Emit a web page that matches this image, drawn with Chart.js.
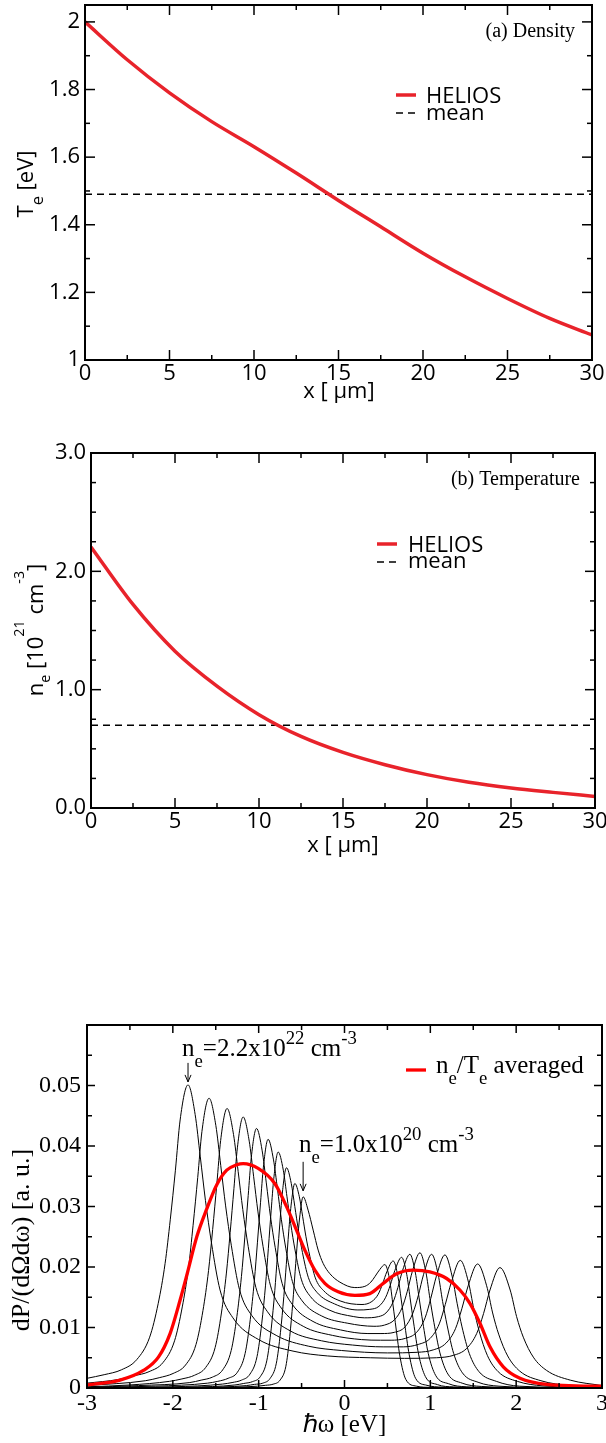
<!DOCTYPE html>
<html><head><meta charset="utf-8">
<script src="https://cdn.jsdelivr.net/npm/chart.js@4.4.1/dist/chart.umd.min.js"></script>
<style>
html,body{margin:0;padding:0;background:#fff;width:606px;height:1443px;overflow:hidden;position:relative}
canvas{position:absolute;left:0}
</style></head><body>
<canvas id="c1" width="606" height="410" style="top:0px;width:606px;height:410px"></canvas>
<canvas id="c2" width="606" height="430" style="top:440px;width:606px;height:430px"></canvas>
<canvas id="c3" width="606" height="443" style="top:1000px;width:606px;height:443px"></canvas>
<script>
// ---------------- DATA ----------------
// Panel (a): electron temperature profile
const posX = [0, 2.5, 5, 7.5, 10, 12.5, 15, 17.5, 20, 22.5, 25, 27.5, 30];
const teHelios = [2.0, 1.888, 1.79, 1.705, 1.631, 1.553, 1.472, 1.394, 1.316, 1.246, 1.182, 1.123, 1.074];
const teMean = 1.49;
// Panel (b): electron density profile [1e21 cm^-3]
const neHelios = [2.206, 1.72, 1.325, 1.03, 0.789, 0.605, 0.47, 0.366, 0.282, 0.217, 0.169, 0.132, 0.098];
const neMean = 0.70;
// tick labels
const xTicksPos = [0, 5, 10, 15, 20, 25, 30];
const yTicksTe = [1, 1.2, 1.4, 1.6, 1.8, 2];
const yTicksNe = [0, 1, 2, 3];
const yLabelsNe = ['0.0', '1.0', '2.0', '3.0'];
const xTicksW = [-3, -2, -1, 0, 1, 2, 3];
const yTicksP = [0, 0.01, 0.02, 0.03, 0.04, 0.05];

// Panel (c): spectra [hbar*omega (eV), dP/(dOmega domega)]
const specNe0 = [[-3.0,0.0016],[-2.8,0.0022],[-2.6,0.0030],[-2.42,0.0047],[-2.27,0.0084],[-2.17,0.0140],[-2.09,0.0206],[-2.03,0.0278],[-1.97,0.0360],[-1.915,0.0443],[-1.823,0.0501],[-1.74,0.0452],[-1.68,0.0382],[-1.62,0.0310],[-1.55,0.0240],[-1.45,0.0162],[-1.3,0.0116],[-1.0,0.0080],[-0.6,0.0061],[-0.2,0.0053],[0.3,0.0050],[0.7,0.0049],[1.07,0.0050],[1.27,0.0054],[1.42,0.0065],[1.54,0.0090],[1.62,0.0123],[1.695,0.0162],[1.811,0.0199],[1.93,0.0162],[2.005,0.0118],[2.083,0.0084],[2.2,0.0051],[2.355,0.0029],[2.63,0.0013],[3.0,0.0004]];
const specNe1 = [[-3.0,0.0008],[-2.637,0.0014],[-2.457,0.0020],[-2.277,0.0027],[-2.115,0.0042],[-1.980,0.0078],[-1.890,0.0134],[-1.818,0.0198],[-1.764,0.0269],[-1.710,0.0348],[-1.661,0.0424],[-1.578,0.0479],[-1.499,0.0434],[-1.442,0.0368],[-1.385,0.0301],[-1.319,0.0236],[-1.224,0.0163],[-1.081,0.0120],[-0.796,0.0087],[-0.416,0.0069],[-0.036,0.0062],[0.5,0.0058],[0.850,0.0059],[1.034,0.0063],[1.182,0.0074],[1.293,0.0098],[1.367,0.0131],[1.441,0.0169],[1.551,0.0205],[1.656,0.0169],[1.726,0.0124],[1.796,0.0089],[1.901,0.0053],[2.041,0.0028],[2.289,0.0012],[2.622,0.0004],[3.0,0.0001]];
const specNe2 = [[-3.0,0.0004],[-2.321,0.0012],[-2.159,0.0017],[-1.997,0.0024],[-1.852,0.0038],[-1.730,0.0072],[-1.649,0.0128],[-1.584,0.0194],[-1.536,0.0262],[-1.487,0.0338],[-1.443,0.0409],[-1.368,0.0462],[-1.293,0.0419],[-1.239,0.0358],[-1.185,0.0295],[-1.122,0.0234],[-1.032,0.0166],[-0.897,0.0126],[-0.627,0.0094],[-0.267,0.0078],[0.093,0.0071],[0.45,0.0068],[0.685,0.0068],[0.859,0.0072],[0.998,0.0082],[1.104,0.0106],[1.174,0.0138],[1.245,0.0175],[1.349,0.0211],[1.444,0.0175],[1.506,0.0131],[1.569,0.0094],[1.664,0.0054],[1.790,0.0027],[2.013,0.0011],[2.313,0.00035],[3.0,0.00005]];
const specNe3 = [[-3.0,0.0002],[-2.5,0.0005],[-2.040,0.0011],[-1.894,0.0015],[-1.748,0.0021],[-1.617,0.0034],[-1.507,0.0067],[-1.434,0.0124],[-1.376,0.0190],[-1.332,0.0257],[-1.288,0.0330],[-1.248,0.0397],[-1.181,0.0448],[-1.110,0.0408],[-1.059,0.0350],[-1.008,0.0291],[-0.949,0.0234],[-0.864,0.0170],[-0.736,0.0132],[-0.481,0.0102],[-0.141,0.0087],[0.199,0.0080],[0.42,0.0079],[0.543,0.0079],[0.708,0.0082],[0.840,0.0092],[0.939,0.0116],[1.005,0.0148],[1.071,0.0185],[1.170,0.0220],[1.255,0.0184],[1.312,0.0140],[1.369,0.0101],[1.454,0.0057],[1.567,0.0027],[1.769,0.0011],[2.039,0.0003],[3.0,0.00003]];
const specNe4 = [[-3.0,0.0001],[-2.4,0.0004],[-1.802,0.0009],[-1.670,0.0013],[-1.538,0.0018],[-1.419,0.0030],[-1.320,0.0062],[-1.254,0.0118],[-1.201,0.0184],[-1.162,0.0248],[-1.122,0.0318],[-1.086,0.0381],[-1.025,0.0429],[-0.959,0.0392],[-0.911,0.0339],[-0.863,0.0284],[-0.807,0.0232],[-0.727,0.0173],[-0.607,0.0138],[-0.367,0.0110],[-0.047,0.0096],[0.273,0.0090],[0.425,0.0090],[0.580,0.0092],[0.705,0.0101],[0.797,0.0124],[0.860,0.0153],[0.922,0.0188],[1.015,0.0221],[1.092,0.0187],[1.143,0.0143],[1.195,0.0104],[1.272,0.0057],[1.374,0.0025],[1.556,0.00095],[1.800,0.0003],[2.5,0.00005],[3.0,0.00002]];
const specNe5 = [[-3.0,0.0001],[-2.2,0.0003],[-1.596,0.0008],[-1.476,0.0011],[-1.356,0.0016],[-1.248,0.0026],[-1.158,0.0057],[-1.098,0.0113],[-1.050,0.0178],[-1.014,0.0241],[-0.978,0.0307],[-0.945,0.0365],[-0.890,0.0411],[-0.827,0.0377],[-0.781,0.0329],[-0.736,0.0279],[-0.683,0.0230],[-0.607,0.0176],[-0.493,0.0144],[-0.265,0.0119],[0.039,0.0107],[0.343,0.0102],[0.466,0.0104],[0.584,0.0113],[0.672,0.0133],[0.732,0.0160],[0.791,0.0193],[0.879,0.02235],[0.949,0.0191],[0.995,0.0148],[1.042,0.0108],[1.112,0.0058],[1.205,0.0023],[1.371,0.0008],[1.593,0.00026],[2.2,0.00005],[3.0,0.00001]];
const specNe6 = [[-3.0,0.00005],[-2.0,0.0002],[-1.420,0.00065],[-1.310,0.0009],[-1.200,0.0013],[-1.101,0.0023],[-1.019,0.0052],[-0.964,0.0107],[-0.920,0.0170],[-0.887,0.0231],[-0.854,0.0294],[-0.824,0.0346],[-0.773,0.0390],[-0.713,0.0360],[-0.670,0.0316],[-0.627,0.0272],[-0.576,0.0228],[-0.504,0.0180],[-0.396,0.0151],[-0.180,0.0129],[0.108,0.0118],[0.231,0.0116],[0.396,0.0118],[0.483,0.0124],[0.566,0.0142],[0.622,0.0166],[0.678,0.0195],[0.762,0.0221],[0.826,0.0190],[0.869,0.0149],[0.912,0.0109],[0.976,0.0057],[1.061,0.0021],[1.213,0.0007],[1.417,0.0002],[2.0,0.00004],[3.0,0.0]];
const specNe7 = [[-3.0,0.00003],[-1.8,0.00015],[-1.276,0.0005],[-1.174,0.00075],[-1.072,0.00105],[-0.980,0.0019],[-0.904,0.0046],[-0.853,0.0099],[-0.812,0.0161],[-0.782,0.0218],[-0.751,0.0276],[-0.723,0.0324],[-0.676,0.0364],[-0.620,0.0338],[-0.579,0.0300],[-0.538,0.0262],[-0.490,0.0224],[-0.422,0.0183],[-0.320,0.0158],[-0.116,0.0139],[0.156,0.0129],[0.295,0.0130],[0.401,0.0135],[0.480,0.0150],[0.533,0.0170],[0.586,0.0194],[0.665,0.0216],[0.725,0.0188],[0.764,0.0149],[0.804,0.0109],[0.863,0.0056],[0.942,0.0019],[1.083,0.00056],[1.272,0.00018],[1.8,0.00003],[3.0,0.0]];
const specNe8 = [[-3.0,0.00002],[-1.7,0.0001],[-1.144,0.0004],[-1.048,0.0006],[-0.952,0.0008],[-0.866,0.0016],[-0.794,0.0041],[-0.746,0.0092],[-0.707,0.0151],[-0.678,0.0204],[-0.650,0.0258],[-0.623,0.0301],[-0.579,0.0338],[-0.526,0.0316],[-0.487,0.0283],[-0.449,0.0250],[-0.404,0.0218],[-0.340,0.0182],[-0.244,0.0161],[-0.052,0.0144],[0.204,0.0138],[0.319,0.0143],[0.393,0.0155],[0.443,0.0172],[0.493,0.0192],[0.567,0.0210],[0.623,0.0184],[0.660,0.0147],[0.698,0.0109],[0.754,0.0055],[0.828,0.0016],[0.961,0.00044],[1.138,0.00014],[1.6,0.00003],[3.0,0.0]];
const specNe9 = [[-3.0,0.00001],[-1.6,0.00008],[-1.012,0.0003],[-0.922,0.00044],[-0.832,0.00063],[-0.751,0.0013],[-0.683,0.0036],[-0.638,0.0085],[-0.602,0.0142],[-0.575,0.0193],[-0.548,0.0243],[-0.523,0.0281],[-0.482,0.0316],[-0.424,0.0294],[-0.365,0.0261],[-0.307,0.0228],[-0.249,0.0206],[-0.171,0.0189],[-0.054,0.0175],[0.12,0.0166],[0.237,0.0168],[0.307,0.0175],[0.354,0.0184],[0.412,0.0196],[0.470,0.0204],[0.523,0.0181],[0.557,0.0146],[0.592,0.0108],[0.645,0.0053],[0.715,0.0014],[0.839,0.0003],[1.006,0.0001],[1.5,0.00002],[3.0,0.0]];
const specAveraged = [[-3.0,0.0005],[-2.615,0.0013],[-2.343,0.0029],[-2.168,0.0051],[-2.032,0.0090],[-1.916,0.0145],[-1.838,0.0186],[-1.721,0.0250],[-1.605,0.0296],[-1.488,0.0336],[-1.372,0.0360],[-1.255,0.0369],[-1.18,0.0371],[-1.006,0.0363],[-0.812,0.0338],[-0.657,0.0294],[-0.559,0.0261],[-0.462,0.0228],[-0.346,0.0195],[-0.229,0.0173],[-0.074,0.0159],[0.121,0.0153],[0.295,0.0156],[0.451,0.0173],[0.607,0.0189],[0.8,0.0195],[0.995,0.0192],[1.19,0.0181],[1.345,0.0162],[1.461,0.0140],[1.578,0.0107],[1.695,0.0068],[1.85,0.0035],[2.044,0.0016],[2.355,0.0006],[2.98,0.0003],[3.0,0.0003]];
const spectraNe = [specNe0, specNe1, specNe2, specNe3, specNe4, specNe5, specNe6, specNe7, specNe8, specNe9];

// ---------------- STYLE ----------------
const SANS = "'Open Sans', 'Noto Sans', sans-serif";
const SERIF = "'Liberation Serif', 'Times New Roman', serif";
const RED1 = '#e8232b';
const RED3 = '#ff0000';

function stepRange(a, b, s) { const r = []; for (let v = a; v <= b + s * 1e-6; v += s) r.push(+v.toFixed(6)); return r; }

function drawRich(ctx, t) {
  const size = t.size, fam = t.family;
  const subS = t.subScale || 0.7;
  let w = 0;
  const segs = t.parts.map(([s, m]) => {
    const fs = m ? size * subS : size;
    ctx.font = fs + 'px ' + fam;
    const sw = ctx.measureText(s).width;
    w += sw;
    return { s, m, fs, sw };
  });
  ctx.save();
  ctx.translate(t.x, t.y);
  if (t.rot) ctx.rotate(t.rot);
  let x0 = t.align === 'center' ? -w / 2 : t.align === 'right' ? -w : 0;
  ctx.fillStyle = '#000'; ctx.textBaseline = 'alphabetic'; ctx.textAlign = 'left';
  for (const g of segs) {
    ctx.font = g.fs + 'px ' + fam;
    const dy = g.m === 'sub' ? size * (t.subOff || 0.35) : g.m === 'sup' ? -size * (t.supOff || 0.5) : 0;
    ctx.fillText(g.s, x0, dy);
    x0 += g.sw;
  }
  ctx.restore();
}

const decor = {
  id: 'decor',
  afterDatasetsDraw(chart, args, o) {
    const ctx = chart.ctx, a = chart.chartArea;
    const xs = chart.scales.x, ys = chart.scales.y;
    ctx.save();
    ctx.strokeStyle = '#000';
    const line = (x1, y1, x2, y2) => { ctx.beginPath(); ctx.moveTo(x1, y1); ctx.lineTo(x2, y2); ctx.stroke(); };
    ctx.lineWidth = o.tickWidth;
    const isMaj = (v, arr) => arr.some(m => Math.abs(m - v) < 1e-9);
    const xMin = stepRange(xs.min, xs.max, o.xMinorStep);
    const yMin = stepRange(ys.min, ys.max, o.yMinorStep);
    for (const v of xMin) {
      const len = isMaj(v, o.xMajor) ? o.majLen : o.minLen;
      const px = xs.getPixelForValue(v);
      line(px, a.bottom, px, a.bottom - len);
      line(px, a.top, px, a.top + len);
    }
    for (const v of yMin) {
      const len = isMaj(v, o.yMajor) ? o.majLen : o.minLen;
      const py = ys.getPixelForValue(v);
      line(a.left, py, a.left + len, py);
      line(a.right, py, a.right - len, py);
    }
    ctx.lineWidth = o.frameWidth;
    ctx.strokeRect(a.left, a.top, a.right - a.left, a.bottom - a.top);
    for (const L of (o.legend || [])) {
      const ds = chart.data.datasets[L.ds];
      ctx.strokeStyle = ds.borderColor; ctx.lineWidth = ds.borderWidth;
      ctx.setLineDash(ds.borderDash || []);
      line(L.x1, L.y, L.x2, L.y);
      ctx.setLineDash([]);
    }
    ctx.strokeStyle = '#000'; ctx.lineWidth = 1;
    for (const A of (o.arrows || [])) {
      const px = xs.getPixelForValue(A.x);
      const tip = ys.getPixelForValue(A.y) - A.gap;
      line(px, tip - A.len, px, tip);
      line(px - 3, tip - 7, px, tip);
      line(px + 3, tip - 7, px, tip);
    }
    ctx.restore();
    for (const t of (o.texts || [])) drawRich(ctx, t);
  }
};
Chart.register(decor);

function lineDs(pts, color, width, extra) {
  return Object.assign({
    data: pts.map(p => ({ x: p[0], y: p[1] })),
    borderColor: color, borderWidth: width, pointRadius: 0, fill: false,
    cubicInterpolationMode: 'monotone', tension: 0
  }, extra || {});
}

function scaleCfg(min, max, ticks, fmt, font, pad, fitKey, fitVal) {
  return {
    type: 'linear', min, max,
    afterBuildTicks: s => { s.ticks = ticks.map(v => ({ value: v })); },
    afterFit: s => { s[fitKey] = fitVal; s.paddingTop = 0; s.paddingBottom = 0; s.paddingLeft = 0; s.paddingRight = 0; },
    grid: { display: false, drawTicks: false },
    border: { display: false },
    ticks: { autoSkip: false, maxRotation: 0, minRotation: 0, padding: pad, font, color: '#000', callback: fmt }
  };
}

function baseOpts(padding, xs, ys, decorCfg) {
  return {
    responsive: false, animation: false, events: [],
    layout: { autoPadding: false, padding },
    plugins: { legend: { display: false }, tooltip: { enabled: false }, decor: decorCfg },
    scales: { x: xs, y: ys }
  };
}

const sans22 = { family: SANS, size: 22 };
const serif24 = { family: SERIF, size: 24 };

// ---------------- PANEL (a) ----------------
new Chart(document.getElementById('c1'), {
  type: 'line',
  data: { datasets: [
    lineDs(posX.map((x, i) => [x, teHelios[i]]), RED1, 3.5),
    lineDs([[posX[0], teMean], [posX[posX.length - 1], teMean]], '#000', 1.5, { borderDash: [7, 5] })
  ] },
  options: baseOpts({ left: 0, right: 14, top: 5, bottom: 20 },
    scaleCfg(0, 30, xTicksPos, v => String(v), sans22, 1, 'height', 30),
    scaleCfg(1, 2.05, yTicksTe, v => String(v), sans22, 5, 'width', 85),
    {
      tickWidth: 1.5, frameWidth: 2, majLen: 10, minLen: 5,
      xMajor: xTicksPos, xMinorStep: 2.5, yMajor: yTicksTe, yMinorStep: 0.1,
      legend: [{ ds: 0, x1: 396, x2: 416, y: 95 }, { ds: 1, x1: 396, x2: 416, y: 113 }],
      texts: [
        { x: 426, y: 103, parts: [['HELIOS', '']], family: SANS, size: 22 },
        { x: 426, y: 120, parts: [['mean', '']], family: SANS, size: 22 },
        { x: 575, y: 37, parts: [['(a) Density', '']], family: SERIF, size: 20, align: 'right' },
        { x: 339, y: 398, parts: [['x [ \u03bcm]', '']], family: SANS, size: 22, align: 'center' },
        { x: 33, y: 184, rot: -Math.PI / 2, parts: [['T', ''], ['e', 'sub'], [' [eV]', '']], family: SANS, size: 22, align: 'center', subOff: 0.45, subScale: 0.75 }
      ]
    })
});

// ---------------- PANEL (b) ----------------
new Chart(document.getElementById('c2'), {
  type: 'line',
  data: { datasets: [
    lineDs(posX.map((x, i) => [x, neHelios[i]]), RED1, 3.5),
    lineDs([[posX[0], neMean], [posX[posX.length - 1], neMean]], '#000', 1.5, { borderDash: [7, 5] })
  ] },
  options: baseOpts({ left: 0, right: 11, top: 13, bottom: 32 },
    scaleCfg(0, 30, xTicksPos, v => String(v), sans22, 1, 'height', 30),
    scaleCfg(0, 3, yTicksNe, (v, i) => yLabelsNe[i], sans22, 5, 'width', 91),
    {
      tickWidth: 1.5, frameWidth: 2, majLen: 10, minLen: 5,
      xMajor: xTicksPos, xMinorStep: 2.5, yMajor: yTicksNe, yMinorStep: 0.25,
      legend: [{ ds: 0, x1: 377, x2: 397, y: 104 }, { ds: 1, x1: 377, x2: 397, y: 122 }],
      texts: [
        { x: 408, y: 112, parts: [['HELIOS', '']], family: SANS, size: 22 },
        { x: 408, y: 128, parts: [['mean', '']], family: SANS, size: 22 },
        { x: 580, y: 45, parts: [['(b) Temperature', '']], family: SERIF, size: 20, align: 'right' },
        { x: 343, y: 412, parts: [['x [ \u03bcm]', '']], family: SANS, size: 22, align: 'center' },
        { x: 43, y: 190, rot: -Math.PI / 2, parts: [['n', ''], ['e', 'sub'], [' [10', ''], ['21', 'sup'], [' cm', ''], ['-3', 'sup'], [']', '']], family: SANS, size: 22, align: 'center', subOff: 0.33, supOff: 0.85, subScale: 0.65 }
      ]
    })
});

// ---------------- PANEL (c) ----------------
const ds3 = [lineDs(specAveraged, RED3, 3.3)];
for (const s of spectraNe) ds3.push(lineDs(s, '#000', 1));
new Chart(document.getElementById('c3'), {
  type: 'line',
  data: { datasets: ds3 },
  options: baseOpts({ left: 0, right: 4, top: 25, bottom: 25 },
    scaleCfg(-3, 3, xTicksW, v => String(v), serif24, 1, 'height', 30),
    scaleCfg(0, 0.06, yTicksP, v => String(v), serif24, 6, 'width', 87),
    {
      tickWidth: 1.5, frameWidth: 2, majLen: 8, minLen: 5,
      xMajor: xTicksW, xMinorStep: 0.5, yMajor: yTicksP, yMinorStep: 0.005,
      legend: [{ ds: 0, x1: 406, x2: 426, y: 70 }],
      arrows: [
        { x: specNe0[10][0], y: specNe0[10][1], gap: 3, len: 19 },
        { x: specNe9[12][0], y: specNe9[12][1], gap: 6, len: 29 }
      ],
      texts: [
        { x: 436, y: 73, parts: [['n', ''], ['e', 'sub'], ['/T', ''], ['e', 'sub'], [' averaged', '']], family: SERIF, size: 25, subOff: 0.45, subScale: 0.75 },
        { x: 182, y: 56, parts: [['n', ''], ['e', 'sub'], ['=2.2x10', ''], ['22', 'sup'], [' cm', ''], ['-3', 'sup']], family: SERIF, size: 25, subOff: 0.45, supOff: 0.5, subScale: 0.75 },
        { x: 299, y: 152, parts: [['n', ''], ['e', 'sub'], ['=1.0x10', ''], ['20', 'sup'], [' cm', ''], ['-3', 'sup']], family: SERIF, size: 25, subOff: 0.45, supOff: 0.5, subScale: 0.75 },
        { x: 344.5, y: 432, parts: [['\u210f\u03c9 [eV]', '']], family: SERIF, size: 25, align: 'center' },
        { x: 29, y: 240, rot: -Math.PI / 2, parts: [['dP/(d\u03a9d\u03c9) [a. u.]', '']], family: SERIF, size: 26, align: 'center' }
      ]
    })
});
</script>
</body></html>
